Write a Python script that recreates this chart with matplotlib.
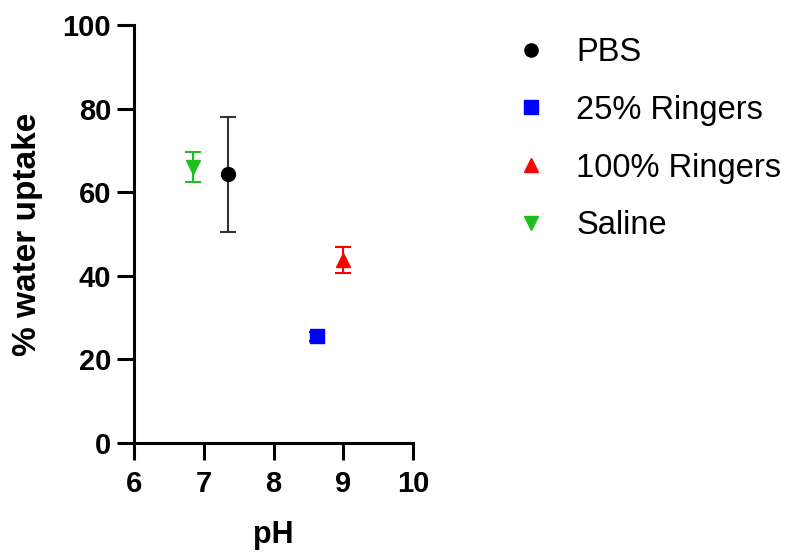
import matplotlib
matplotlib.use('Agg')
import matplotlib.pyplot as plt

plt.rcParams['font.family'] = ['Liberation Sans', 'DejaVu Sans']

# data
groups = ['PBS', '25% Ringers', '100% Ringers', 'Saline']
ph = [7.35, 8.62, 9.0, 6.85]
uptake = [64.3, 25.5, 43.8, 66.0]
err = [13.8, 1.0, 3.1, 3.5]

colors = ['black', '#0000ff', '#ff0000', '#1fbf1f']
ecolors = ['#333333', '#0000ff', '#ff0000', '#1fbf1f']
markers = ['o', 's', '^', 'v']

fig = plt.figure(figsize=(7.95, 5.53), dpi=100)
ax = fig.add_axes([0.1686, 0.199, 0.351, 0.7558])

for i in range(len(groups)):
    ax.errorbar(ph[i], uptake[i], yerr=err[i], fmt=markers[i],
                color=colors[i], ecolor=ecolors[i], markersize=10,
                elinewidth=1.5, capsize=6, capthick=1.5, label=groups[i],
                clip_on=False, zorder=3)

ax.set_xlim(6, 10)
ax.set_ylim(0, 100)
ax.set_xticks([6, 7, 8, 9, 10])
ax.set_yticks([0, 20, 40, 60, 80, 100])
for s in ['top', 'right']:
    ax.spines[s].set_visible(False)
for s in ['left', 'bottom']:
    ax.spines[s].set_linewidth(2.2)
ax.tick_params(width=2.2, length=12.5, labelsize=21)
ax.tick_params(axis='x', pad=7)
ax.tick_params(axis='y', pad=4)
for lab in ax.get_xticklabels() + ax.get_yticklabels():
    lab.set_fontweight('bold')
ax.set_xlabel('pH', fontsize=22, fontweight='bold', labelpad=16)
ax.set_ylabel('% water uptake', fontsize=24, fontweight='bold', labelpad=14)

handles, labels = ax.get_legend_handles_labels()
handles = [h[0] for h in handles]
fig.legend(handles, labels, loc='upper left', bbox_to_anchor=(0.61, 0.986),
           frameon=False, fontsize=23.5, markerscale=0.95, handletextpad=0.9,
           labelspacing=0.82, handlelength=1.0)

fig.savefig('out.png', dpi=100)
